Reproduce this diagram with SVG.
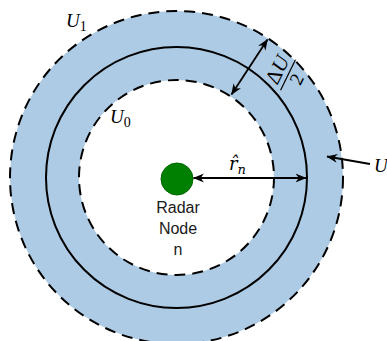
<svg xmlns="http://www.w3.org/2000/svg" width="387" height="341" viewBox="0 0 387 341">
<style>
.math{font-family:"Liberation Serif","DejaVu Serif",serif;font-style:italic;fill:#000}
.up{font-family:"Liberation Serif","DejaVu Serif",serif;font-style:normal;fill:#000}
.lbl{font-family:"Liberation Sans",Arial,sans-serif;font-size:16px;fill:#1a1a1a;text-anchor:middle}
.dash{fill:none;stroke:#000;stroke-width:2;stroke-dasharray:11 7}
.conn{fill:none;stroke:#000;stroke-width:1.8}
</style>
<defs>
<marker id="ah" viewBox="0 0 10 10" refX="9.5" refY="5" markerWidth="11" markerHeight="11" markerUnits="userSpaceOnUse" orient="auto-start-reverse">
<path d="M0,1 L10,5 L0,9 L3,5 Z" fill="#000"/>
</marker>
</defs>
<rect width="387" height="341" fill="#fff"/>
<g id="band">
<path d="M10,177.5 a166.5,166.5 0 1,0 333,0 a166.5,166.5 0 1,0 -333,0 Z M79,177.5 a97.5,97.5 0 1,0 195,0 a97.5,97.5 0 1,0 -195,0 Z" fill="#adcbe4" fill-rule="evenodd"/>
</g>
<g id="u1-boundary">
<circle cx="176.5" cy="177.5" r="166.5" class="dash"/>
<text class="math" x="66" y="27" font-size="19">U<tspan class="up" font-size="14" dy="4">1</tspan></text>
</g>
<g id="u-circle">
<circle cx="176.5" cy="177.5" r="130.5" fill="none" stroke="#000" stroke-width="2"/>
</g>
<g id="u0-boundary">
<circle cx="176.5" cy="177.5" r="97.5" class="dash"/>
<text class="math" x="110" y="123" font-size="19">U<tspan class="up" font-size="14" dy="4">0</tspan></text>
</g>
<g id="radar-node">
<circle cx="177" cy="179" r="16" fill="#008000" stroke="#006400" stroke-width="1"/>
<text class="lbl" x="178" y="213">Radar</text>
<text class="lbl" x="178" y="234">Node</text>
<text class="lbl" x="178" y="255">n</text>
</g>
<g id="connectors">
<line class="conn" x1="193.5" y1="178" x2="306" y2="178" marker-start="url(#ah)" marker-end="url(#ah)"/>
<line class="conn" x1="231.5" y1="94.5" x2="267.5" y2="39.5" marker-start="url(#ah)" marker-end="url(#ah)"/>
<line class="conn" x1="370" y1="164" x2="327" y2="156.5" marker-end="url(#ah)"/>
</g>
<g id="labels">
<text x="229" y="170" font-size="18" font-family="DejaVu Serif, serif" font-style="italic">r̂<tspan dy="4" font-size="13">n</tspan></text>
<g transform="translate(288,75) rotate(-64)">
<text x="0" y="-5" font-size="21" text-anchor="middle"><tspan class="up">Δ</tspan><tspan class="math">U</tspan></text>
<line x1="-17" y1="0" x2="17" y2="0" stroke="#000" stroke-width="1.2"/>
<text class="up" x="0" y="16" font-size="19" text-anchor="middle">2</text>
</g>
<text class="math" x="374" y="172" font-size="19">U</text>
</g>
</svg>
